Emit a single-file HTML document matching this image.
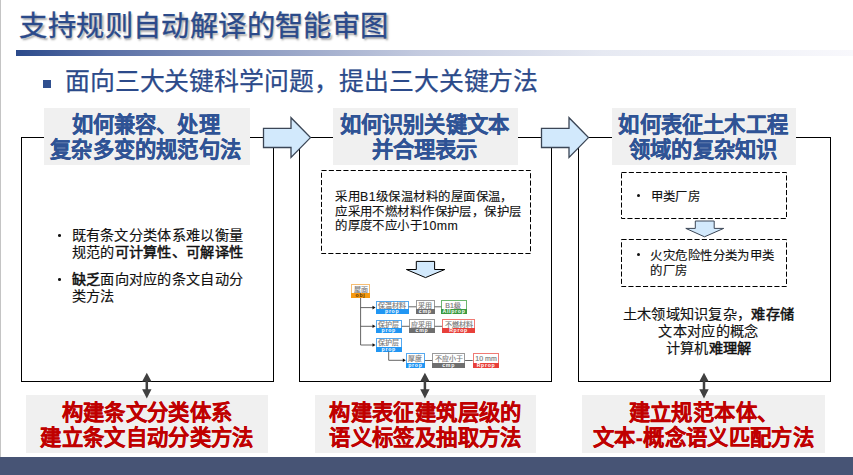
<!DOCTYPE html>
<html lang="zh-CN">
<head>
<meta charset="utf-8">
<style>
*{margin:0;padding:0;box-sizing:border-box;}
html,body{width:853px;height:475px;overflow:hidden;background:#fff;}
body{position:relative;font-family:"Liberation Sans",sans-serif;color:#000;}
.a{position:absolute;}
.nw{white-space:nowrap;}
#strip{left:0;top:0;width:1px;height:457px;background:#c4c4c4;}
#title{left:19.4px;top:6px;letter-spacing:0.39px;font-size:28.3px;line-height:40px;color:#2b4a8a;-webkit-text-stroke:0.35px #2b4a8a;text-shadow:1.5px 1.5px 2px rgba(40,40,40,.4);}
#gline{left:16px;top:50px;width:837px;height:6px;background:linear-gradient(to right,#2b4a8b 0%,#5a70a6 11%,#7c8db8 22%,#c3cadf 48%,#e6e9f2 70%,#f8f8fc 100%);}
#sq{left:42.5px;top:79.5px;width:8.5px;height:8px;background:#2f4f8f;}
#sub{left:64.8px;top:63.2px;letter-spacing:-0.08px;font-size:24.9px;line-height:36px;color:#2b4a8a;-webkit-text-stroke:0.25px #2b4a8a;}
.panel{border:1px solid #000;width:253px;height:245px;top:137px;}
.hdr{background:#f0f0f0;top:108px;height:57px;}
.hdr div{position:absolute;-webkit-text-stroke:0.25px #2f5395;left:0;right:0;letter-spacing:0.2px;text-align:center;font-weight:bold;color:#2f5395;font-size:21.3px;line-height:25px;white-space:nowrap;}
.btm{background:#f0f0f0;top:395px;height:58px;}
.btm div{position:absolute;-webkit-text-stroke:0.25px #c00000;left:0;right:0;letter-spacing:0.35px;text-align:center;font-weight:bold;color:#c00000;font-size:21.3px;line-height:25.5px;white-space:nowrap;}
#bar{left:0;top:457px;width:853px;height:18px;background:#475475;}
.p1t{font-size:14.2px;line-height:17.8px;letter-spacing:0.3px;color:#111;-webkit-text-stroke:0.15px #111;}
.dot{width:3.5px;height:3.2px;border-radius:50%;background:#111;}
.dash{border:1px dashed #000;}
.t12{font-size:12.4px;line-height:14.5px;letter-spacing:0.44px;color:#111;-webkit-text-stroke:0.12px #111;}
b{font-weight:normal;-webkit-text-stroke:0.5px currentColor;}
svg{position:absolute;left:0;top:0;overflow:visible;z-index:5;}
/* tree */
.nb{position:absolute;border:1px solid;background:#fff;}
.nb .lb{position:absolute;left:0;right:0;top:0.6px;text-align:center;font-size:7px;line-height:8px;color:#7a7a7a;-webkit-text-stroke:0.15px #7a7a7a;white-space:nowrap;}
.nb .tg{position:absolute;left:-1px;right:-1px;bottom:-1px;height:5px;text-align:center;font-size:5.2px;line-height:5px;letter-spacing:0.7px;font-weight:bold;color:#fff;white-space:nowrap;}
.bl{border-color:#55a8ef;} .bl .tg{background:#2196f3;}
.gy{border-color:#9a9a9a;} .gy .tg{background:#6e6e6e;}
.gr{border-color:#6cb86f;} .gr .tg{background:#3c9a40;}
.rd{border-color:#f07a74;} .rd .tg{background:#e8403a;}
.or{border-color:#f6bd72;} .or .tg{background:#f59a13;color:#5a3300;}
</style>
</head>
<body>
<div class="a" id="strip"></div>
<div class="a nw" id="title">支持规则自动解译的智能审图</div>
<div class="a" id="gline"></div>
<div class="a" id="sq"></div>
<div class="a nw" id="sub">面向三大关键科学问题，提出三大关键方法</div>

<!-- panels -->
<div class="a panel" style="left:21px;"></div>
<div class="a panel" style="left:299px;"></div>
<div class="a panel" style="left:578px;"></div>

<!-- headers -->
<div class="a hdr" style="left:44px;width:206px;"><div style="top:5.3px;left:-2.6px;">如何兼容、处理</div><div style="top:30px;left:-2.6px;">复杂多变的规范句法</div></div>
<div class="a hdr" style="left:333px;width:185px;"><div style="top:5.3px;left:-2px;">如何识别关键文本</div><div style="top:30px;left:-2px;">并合理表示</div></div>
<div class="a hdr" style="left:611.5px;width:184.5px;"><div style="top:5.3px;left:-1px;">如何表征土木工程</div><div style="top:30px;left:-1px;">领域的复杂知识</div></div>

<!-- right block arrows -->
<svg width="853" height="475">
  <path d="M263.5 128.3 H291 V117.7 L310.5 137.6 L291 157.5 V147.5 H263.5 Z" fill="#d2e9fc" stroke="#3b4656" stroke-width="1.3"/>
  <path d="M541.5 128.3 H569 V117.7 L588.5 137.6 L569 157.5 V147.5 H541.5 Z" fill="#d2e9fc" stroke="#3b4656" stroke-width="1.3"/>
  <!-- down arrows -->
  <path d="M416.3 261.4 H434.6 V269.5 H444.8 L425.5 277.6 L406.4 269.5 H416.3 Z" fill="#d2e9fc" stroke="#000" stroke-width="1"/>
  <path d="M695.3 221 H714.2 V228.4 H723.7 L704.5 236.8 L685.8 228.4 H695.3 Z" fill="#d2e9fc" stroke="#3b4656" stroke-width="1"/>
  <!-- dashed boxes -->
  <rect x="321.5" y="170.5" width="209" height="83" fill="none" stroke="#000" stroke-width="1" stroke-dasharray="5.1 2.2"/>
  <rect x="621.5" y="172.5" width="165" height="46" fill="none" stroke="#000" stroke-width="1" stroke-dasharray="5.1 2.2"/>
  <rect x="621.5" y="239.5" width="165" height="47" fill="none" stroke="#000" stroke-width="1" stroke-dasharray="5.1 2.2"/>
  <!-- double arrows -->
  <g fill="#404040" stroke="none">
    <path d="M146.8 372.7 L151.5 381.6 H148.05 V389.3 H151.5 L146.8 398.4 L142.1 389.3 H145.55 V381.6 H142.1 Z"/>
    <path d="M424.9 372.7 L429.6 381.6 H426.15 V389.3 H429.6 L424.9 398.4 L420.2 389.3 H423.65 V381.6 H420.2 Z"/>
    <path d="M704 372.7 L708.7 381.6 H705.25 V389.3 H708.7 L704 398.4 L699.3 389.3 H702.75 V381.6 H699.3 Z"/>
  </g>
  <!-- tree connectors -->
  <g stroke="#555" stroke-width="0.9" fill="none">
    <path d="M360.6 298 V345 H373"/>
    <path d="M360.6 307.6 H373"/>
    <path d="M360.6 326.3 H373"/>
    <path d="M388.7 351.6 V360.3 H403.5"/>
    <path d="M408.7 306.8 H416 M434.5 306.8 H441.3"/>
    <path d="M401.8 326.3 H409.3 M434.7 326.3 H442.1"/>
    <path d="M424.9 360.5 H432.2 M465.1 360.5 H472.7"/>
  </g>
  <g fill="#111">
    <path d="M372.5 305.8 L375.6 307.6 L372.5 309.4 Z"/>
    <path d="M372.5 324.5 L375.6 326.3 L372.5 328.1 Z"/>
    <path d="M372.5 343.2 L375.6 345 L372.5 346.8 Z"/>
    <path d="M402.8 358.5 L405.9 360.3 L402.8 362.1 Z"/>
  </g>
</svg>

<!-- panel 1 bullets -->
<div class="a dot" style="left:57.75px;top:234px;"></div>
<div class="a p1t nw" style="left:71.6px;top:226.6px;">既有条文分类体系难以衡量<br>规范的<b>可计算性、可解译性</b></div>
<div class="a dot" style="left:57.75px;top:277.7px;"></div>
<div class="a p1t nw" style="left:71.6px;top:270.7px;"><b>缺乏</b>面向对应的条文自动分<br>类方法</div>

<!-- panel 2 text -->
<div class="a t12 nw" style="left:335.1px;top:190px;">采用B1级保温材料的屋面保温，<br>应采用不燃材料作保护层，保护层<br>的厚度不应小于10mm</div>

<!-- tree nodes -->
<div class="nb or" style="left:351px;top:284.4px;width:19px;height:13.7px;"><div class="lb">屋面</div><div class="tg">obj</div></div>
<div class="nb bl" style="left:375.7px;top:300.5px;width:33px;height:13.4px;"><div class="lb">保温材料</div><div class="tg">prop</div></div>
<div class="nb gy" style="left:416px;top:300.2px;width:18.5px;height:13.6px;"><div class="lb">采用</div><div class="tg">cmp</div></div>
<div class="nb gr" style="left:441.3px;top:300.2px;width:25.5px;height:13.6px;"><div class="lb" style="text-align:left;padding-left:3px;">B1级</div><div class="tg">Allprop</div></div>
<div class="nb bl" style="left:375.7px;top:319.5px;width:26.1px;height:13.4px;"><div class="lb">保护层</div><div class="tg">prop</div></div>
<div class="nb gy" style="left:409.3px;top:319px;width:25.4px;height:14px;"><div class="lb">应采用</div><div class="tg">cmp</div></div>
<div class="nb rd" style="left:442.1px;top:319px;width:32.9px;height:14px;"><div class="lb">不燃材料</div><div class="tg">Rprop</div></div>
<div class="nb bl" style="left:375.7px;top:337.9px;width:26.1px;height:13.7px;"><div class="lb">保护层</div><div class="tg">prop</div></div>
<div class="nb bl" style="left:405.9px;top:353.4px;width:19px;height:14.3px;"><div class="lb">厚度</div><div class="tg">prop</div></div>
<div class="nb gy" style="left:432.2px;top:353.4px;width:32.9px;height:14.3px;"><div class="lb">不应小于</div><div class="tg">cmp</div></div>
<div class="nb rd" style="left:472.7px;top:353.4px;width:26.7px;height:14.3px;"><div class="lb">10 mm</div><div class="tg">Rprop</div></div>

<!-- panel 3 -->
<div class="a dot" style="left:636.9px;top:193.9px;width:3.2px;"></div>
<div class="a t12 nw" style="left:650.6px;top:189.75px;">甲类厂房</div>
<div class="a dot" style="left:636.9px;top:252.9px;width:3.2px;"></div>
<div class="a t12 nw" style="left:650.4px;top:248.6px;line-height:15.5px;">火灾危险性分类为甲类<br>的厂房</div>
<div class="a p1t nw" style="left:588.5px;width:240px;top:306px;text-align:center;line-height:16.8px;">土木领域知识复杂，<b>难存储</b><br>文本对应的概念<br>计算机<b>难理解</b></div>

<!-- bottom boxes -->
<div class="a btm" style="left:26px;width:242px;"><div style="top:6.1px;">构建条文分类体系</div><div style="top:31.1px;">建立条文自动分类方法</div></div>
<div class="a btm" style="left:315px;width:221px;"><div style="top:6.1px;">构建表征建筑层级的</div><div style="top:31.1px;">语义标签及抽取方法</div></div>
<div class="a btm" style="left:582px;width:243px;"><div style="top:6.1px;">建立规范本体、</div><div style="top:31.1px;">文本-概念语义匹配方法</div></div>

<div class="a" id="bar"></div>
</body>
</html>
